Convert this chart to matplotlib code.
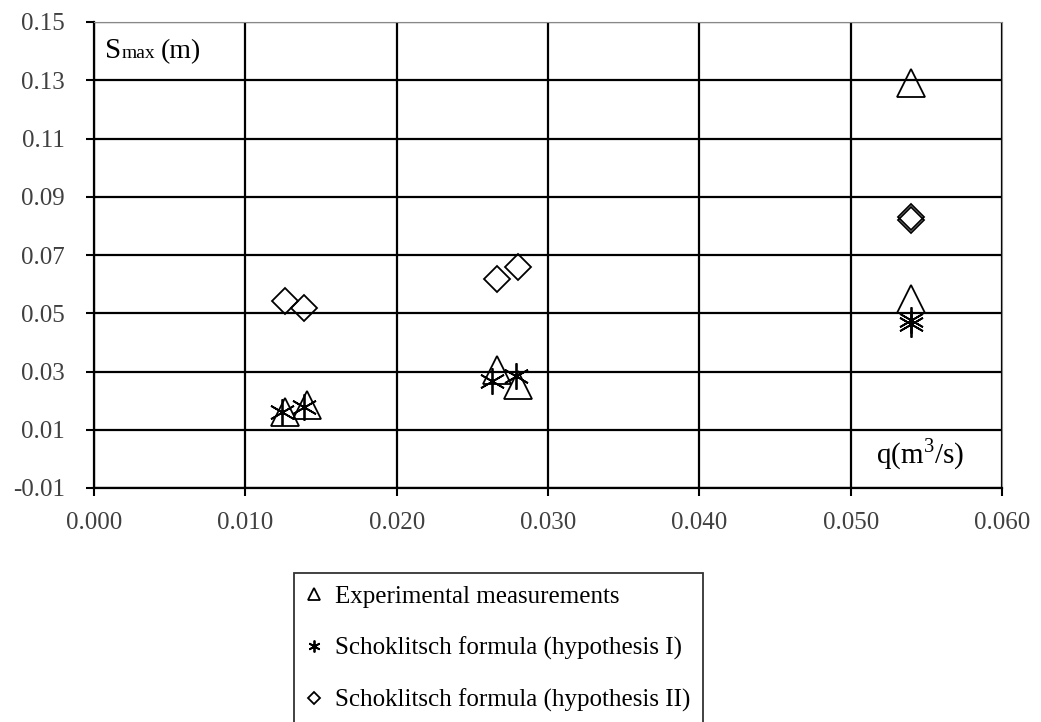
import matplotlib.pyplot as plt

# Dữ liệu
q_exp = [0.0126, 0.0141, 0.0266, 0.0280, 0.0540, 0.0540]
s_exp = [0.0162, 0.0186, 0.0305, 0.0255, 0.1290, 0.0548]

q_h1 = [0.0124, 0.0139, 0.0263, 0.0279, 0.0540, 0.0540]
s_h1 = [0.0162, 0.0179, 0.0268, 0.0283, 0.0462, 0.0478]

q_h2 = [0.0126, 0.0139, 0.0266, 0.0280, 0.0540, 0.0540]
s_h2 = [0.0541, 0.0517, 0.0617, 0.0659, 0.0820, 0.0832]

xticks = [0.000, 0.010, 0.020, 0.030, 0.040, 0.050, 0.060]
yticks = [-0.01, 0.01, 0.03, 0.05, 0.07, 0.09, 0.11, 0.13, 0.15]

plt.rcParams['font.family'] = ['Liberation Serif', 'DejaVu Serif']
plt.rcParams['mathtext.fontset'] = 'custom'
plt.rcParams['mathtext.rm'] = 'Liberation Serif'

fig = plt.figure(figsize=(10.41, 7.22), dpi=100)
ax = fig.add_axes([94/1041, 1-488/722, (1002-94)/1041, (488-22)/722])

ax.plot(q_exp, s_exp, ls='none', marker='^', ms=20, mfc='none', mec='black', mew=1.3,
        label='Experimental measurements')
ax.plot(q_h1, s_h1, ls='none', marker=(6, 2, 0), ms=19, mec='black', mew=1.3,
        label='Schoklitsch formula (hypothesis I)')
ax.plot(q_h2, s_h2, ls='none', marker='D', ms=13, mfc='none', mec='black', mew=1.3,
        label='Schoklitsch formula (hypothesis II)')

ax.set_xlim(0, 0.06)
ax.set_ylim(-0.01, 0.15)
ax.set_xticks(xticks)
ax.set_xticklabels(['%.3f' % v for v in xticks])
ax.set_yticks(yticks)
ax.set_yticklabels(['%.2f' % v for v in yticks])
ax.tick_params(labelsize=18, labelcolor='#404040', length=6, width=1.5)
ax.tick_params(axis='y', pad=15)
ax.tick_params(axis='x', pad=11)
ax.grid(True, color='black', lw=1.6)
ax.set_axisbelow(True)
for s in ['left', 'bottom']:
    ax.spines[s].set_linewidth(1.6)
for s in ['top', 'right']:
    ax.spines[s].set_color('#888888')

# nhãn trục y: S lớn, "max" nhỏ cùng đường chân chữ
t1 = ax.text(0.00073, 0.1375, 'S', fontsize=21, va='baseline')
t2 = ax.annotate('max', xy=(1, 0), xycoords=t1, xytext=(0.5, 0.22*21),
                 textcoords='offset points', fontsize=14, va='baseline')
ax.annotate('(m)', xy=(1, 0), xycoords=t2, xytext=(4, 0.22*14),
            textcoords='offset points', fontsize=20, va='baseline')
ax.text(0.0517, 0.0015, 'q(m$^3$/s)', fontsize=21, va='center')

leg = ax.legend(loc='upper left', fontsize=18, frameon=True,
                fancybox=False, edgecolor='black', handlelength=0.6,
                handletextpad=0.55, markerscale=0.45, borderaxespad=0,
                labelspacing=1.15, borderpad=0.5)
leg.set_bbox_to_anchor((294/1041, 1-573/722), transform=fig.transFigure)
leg.get_frame().set_linewidth(1.3)

plt.savefig('out.png', dpi=100)
